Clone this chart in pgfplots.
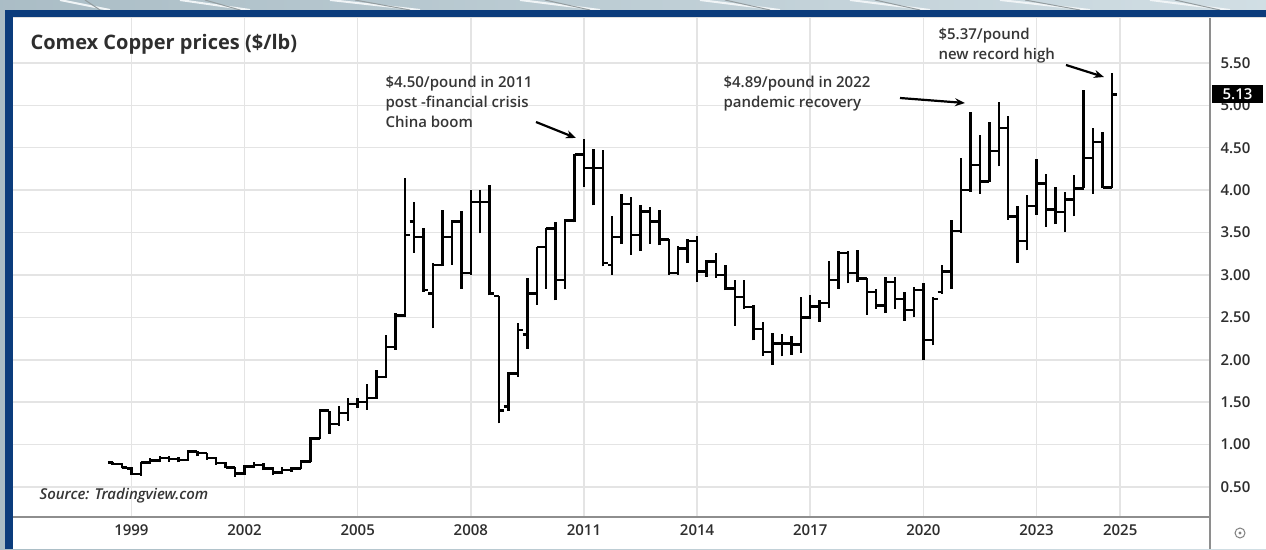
\documentclass[border=0pt]{standalone}
\usepackage{pgfplots}
\pgfplotsset{compat=1.18}
\usepackage{pgfplotstable}
\usepackage{fontspec}
\setmainfont{Open Sans}
\IfFontExistsTF{Open Sans SemiBold}{\newfontfamily\semib{Open Sans SemiBold}}{%
  \IfFontExistsTF{Open Sans Semibold}{\newfontfamily\semib{Open Sans Semibold}}{%
    \newfontfamily\semib{Open Sans}[FakeBold=20]}}
\usetikzlibrary{arrows.meta}

\definecolor{navy}{HTML}{0B3C7C}
\definecolor{bgblue}{HTML}{B2C8D2}
\definecolor{gridc}{HTML}{E4E4E4}
\definecolor{axc}{HTML}{8E8E8E}
\definecolor{txt}{HTML}{2E2E2E}
\definecolor{anno}{HTML}{363636}

\pgfdeclareplotmark{ohlcopen}{\pgfpathmoveto{\pgfqpoint{-4.7pt}{0pt}}\pgfpathlineto{\pgfqpoint{0pt}{0pt}}\pgfusepathqstroke}
\pgfdeclareplotmark{ohlcclose}{\pgfpathmoveto{\pgfqpoint{0pt}{0pt}}\pgfpathlineto{\pgfqpoint{4.7pt}{0pt}}\pgfusepathqstroke}

\pgfplotstableread{
t o h l c
1998.50 0.79 0.80 0.76 0.77
1998.75 0.77 0.78 0.72 0.73
1999.00 0.72 0.73 0.64 0.65
1999.25 0.65 0.80 0.63 0.79
1999.50 0.79 0.84 0.77 0.81
1999.75 0.81 0.86 0.79 0.84
2000.00 0.84 0.86 0.80 0.83
2000.25 0.83 0.85 0.79 0.82
2000.50 0.82 0.94 0.81 0.92
2000.75 0.92 0.93 0.86 0.90
2001.00 0.90 0.90 0.82 0.84
2001.25 0.84 0.85 0.76 0.78
2001.50 0.78 0.79 0.72 0.73
2001.75 0.73 0.74 0.62 0.66
2002.00 0.66 0.76 0.64 0.74
2002.25 0.74 0.79 0.72 0.76
2002.50 0.76 0.78 0.70 0.72
2002.75 0.72 0.74 0.64 0.67
2003.00 0.67 0.73 0.65 0.70
2003.25 0.70 0.74 0.68 0.72
2003.50 0.72 0.82 0.71 0.80
2003.75 0.80 1.09 0.79 1.07
2004.00 1.07 1.42 1.06 1.40
2004.25 1.40 1.40 1.13 1.24
2004.50 1.24 1.45 1.22 1.37
2004.75 1.37 1.55 1.28 1.48
2005.00 1.48 1.55 1.43 1.50
2005.25 1.50 1.72 1.41 1.55
2005.50 1.55 1.88 1.54 1.80
2005.75 1.80 2.29 1.78 2.15
2006.00 2.15 2.55 2.12 2.52
2006.25 2.52 4.14 2.50 3.47
2006.50 3.63 3.86 3.26 3.45
2006.75 3.45 3.55 2.80 2.82
2007.00 2.78 3.14 2.37 3.12
2007.25 3.12 3.77 3.10 3.45
2007.50 3.45 3.65 3.12 3.63
2007.75 3.63 3.75 2.84 3.02
2008.00 3.02 4.00 3.00 3.86
2008.25 3.86 4.00 3.49 3.86
2008.50 3.86 4.06 2.76 2.78
2008.75 2.75 2.75 1.25 1.40
2009.00 1.45 1.86 1.40 1.84
2009.25 1.84 2.43 1.80 2.35
2009.50 2.30 2.96 2.13 2.78
2009.75 2.78 3.33 2.65 3.33
2010.00 3.33 3.55 2.84 3.55
2010.25 3.55 3.62 2.70 2.94
2010.50 2.94 3.66 2.84 3.64
2010.75 3.64 4.43 3.62 4.42
2011.00 4.42 4.60 4.04 4.26
2011.25 4.26 4.49 3.82 4.26
2011.50 4.26 4.47 3.10 3.14
2011.75 3.12 3.70 3.00 3.45
2012.00 3.45 3.96 3.37 3.84
2012.25 3.84 3.92 3.24 3.47
2012.50 3.47 3.82 3.28 3.75
2012.75 3.75 3.80 3.37 3.63
2013.00 3.63 3.77 3.35 3.42
2013.25 3.42 3.42 3.00 3.02
2013.50 3.02 3.34 3.00 3.31
2013.75 3.31 3.42 3.14 3.40
2014.00 3.40 3.46 2.92 3.04
2014.25 3.04 3.18 2.98 3.16
2014.50 3.16 3.26 2.97 3.00
2014.75 3.00 3.12 2.82 2.84
2015.00 2.84 2.94 2.40 2.74
2015.25 2.74 2.94 2.60 2.62
2015.50 2.62 2.65 2.23 2.36
2015.75 2.36 2.45 2.05 2.09
2016.00 2.09 2.31 1.94 2.19
2016.25 2.19 2.30 2.04 2.19
2016.50 2.19 2.28 2.06 2.18
2016.75 2.18 2.74 2.08 2.50
2017.00 2.50 2.76 2.48 2.63
2017.25 2.63 2.70 2.45 2.67
2017.50 2.67 3.16 2.61 2.94
2017.75 2.94 3.28 2.84 3.26
2018.00 3.26 3.28 2.90 3.02
2018.25 3.02 3.30 2.92 2.96
2018.50 2.96 2.96 2.53 2.80
2018.75 2.80 2.84 2.60 2.64
2019.00 2.64 2.98 2.55 2.92
2019.25 2.92 2.98 2.60 2.72
2019.50 2.72 2.80 2.46 2.59
2019.75 2.59 2.86 2.50 2.82
2020.00 2.82 2.90 2.00 2.23
2020.25 2.23 2.74 2.17 2.72
2020.50 2.80 3.12 2.78 3.04
2020.75 3.04 3.65 2.84 3.52
2021.00 3.52 4.38 3.50 4.00
2021.25 4.00 4.92 3.98 4.30
2021.50 4.30 4.65 3.96 4.10
2021.75 4.10 4.80 4.10 4.46
2022.00 4.46 5.04 4.28 4.73
2022.25 4.73 4.87 3.65 3.69
2022.50 3.69 3.81 3.14 3.40
2022.75 3.40 3.94 3.29 3.81
2023.00 3.81 4.37 3.71 4.08
2023.25 4.08 4.19 3.57 3.77
2023.50 3.77 4.04 3.60 3.74
2023.75 3.74 3.98 3.51 3.89
2024.00 3.89 4.18 3.69 4.02
2024.25 4.02 5.18 4.02 4.38
2024.50 4.38 4.73 3.96 4.57
2024.75 4.57 4.69 4.02 4.03
2025.00 4.03 5.38 4.03 5.13
}\copper

\begin{document}
\begin{tikzpicture}[x=1pt,y=1pt]
\path[use as bounding box] (0,0) rectangle (1266,549);
\shade[left color=bgblue!85!gray, right color=bgblue!60!white] (0,0) rectangle (1266,549);
\foreach \a/\b in {60/110,180/250,330/420,520/600,700/780,850/930,1000/1090,1150/1230}{
  \draw[white!80!bgblue, line width=2pt] (\a,549) -- (\b,539);
  \draw[gray!60!bgblue, line width=1pt] (\a+25,549) -- (\b-10,539);
}
\fill[navy] (5,0) rectangle (1266,539);
\fill[white] (13,0) rectangle (1266,532);
\draw[gray!25, line width=1pt] (13,531) -- (1266,531);

\begin{axis}[
  at={(13pt,32pt)}, anchor=south west,
  scale only axis, width=1197pt, height=499pt,
  xmin=1995.86, xmax=2027.6, ymin=0.146, ymax=6.03,
  axis line style={draw=none},
  tick style={draw=none},
  xtick={1999,2002,2005,2008,2011,2014,2017,2020,2023,2025.22},
  xticklabels={1999,2002,2005,2008,2011,2014,2017,2020,2023,2025},
  ytick={0.5,1,1.5,2,2.5,3,3.5,4,4.5,5,5.5},
  yticklabels={0.50,1.00,1.50,2.00,2.50,3.00,3.50,4.00,4.50,5.00,5.50},
  yticklabel pos=right,
  grid=major,
  major grid style={gridc, line width=1.5pt},
  xticklabel style={font=\semib\fontsize{15}{18}\selectfont, text=txt, yshift=-4pt},
  yticklabel style={font=\semib\fontsize{15}{18}\selectfont, text=txt, anchor=west, xshift=7pt},
  clip=false,
]
\addplot[forget plot, draw=none, mark=none,
  error bars/.cd, y dir=plus, y explicit, error mark=none,
  error bar style={draw=black, line width=2.4pt}]
  table[x=t, y=l, y error expr=\thisrow{h}-\thisrow{l}] {\copper};
\addplot[forget plot, only marks, mark=ohlcopen, mark options={black, line width=2.4pt}]
  table[x=t, y=o] {\copper};
\addplot[forget plot, only marks, mark=ohlcclose, mark options={black, line width=2.4pt}]
  table[x=t, y=c] {\copper};
\end{axis}

\draw[axc, line width=1.5pt] (13,32) -- (1210,32);
\draw[axc, line width=1.5pt] (1210,0) -- (1210,531);

% current price tag
\fill[black] (1212,446) rectangle (1263,464);
\node[text=white, font=\semib\fontsize{15}{18}\selectfont] at (1237.5,455) {5.13};

% title
\node[anchor=west, text=txt, font=\fontsize{20}{24}\selectfont\bfseries] at (27,505) {Comex Copper prices (\$/lb)};

% annotations
\begin{scope}[font=\semib\fontsize{15}{18}\selectfont, text=anno]
\node[anchor=base west] at (382,461) {\$4.50/pound in 2011};
\node[anchor=base west] at (382,441) {post -financial crisis};
\node[anchor=base west] at (382,421) {China boom};
\node[anchor=base west] at (720,461) {\$4.89/pound in 2022};
\node[anchor=base west] at (720,441) {pandemic recovery};
\node[anchor=base west] at (935,509) {\$5.37/pound};
\node[anchor=base west] at (935,489) {new record high};
\end{scope}

\begin{scope}[line width=2.2pt, -{Stealth[length=10pt,width=8pt]}]
\draw (536,427) -- (576,411);
\draw (900,451) -- (965,446);
\draw (1066,484) -- (1104,472);
\end{scope}

\node[anchor=west, text=anno, font=\semib\fontsize{15}{18}\selectfont\itshape] at (36,53) {Source: Tradingview.com};

\draw[gray, line width=1pt] (1240,16) circle (5);
\fill[gray] (1240,16) circle (1.6);
\end{tikzpicture}
\end{document}
